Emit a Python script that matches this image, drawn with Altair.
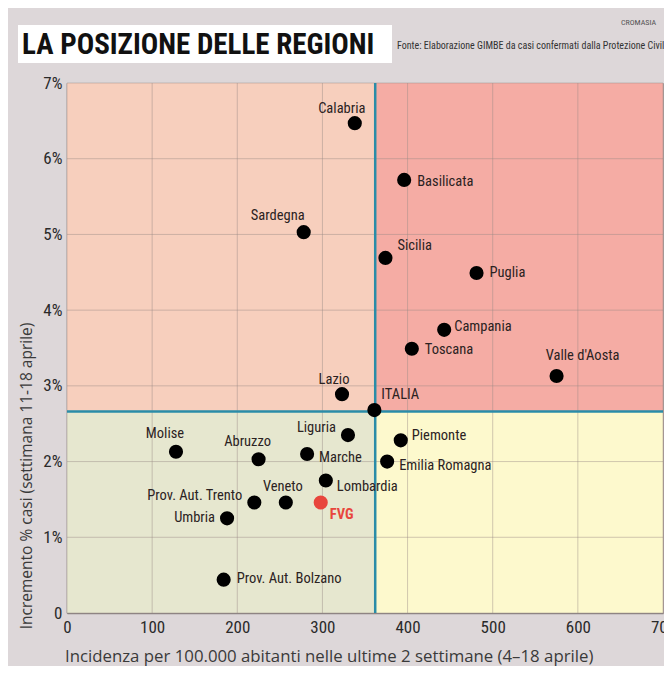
import altair as alt
import pandas as pd

# ---------------- data ----------------
regions = ["Calabria", "Basilicata", "Sardegna", "Sicilia", "Puglia", "Campania",
           "Toscana", "Valle d'Aosta", "Lazio", "ITALIA", "Molise", "Abruzzo",
           "Liguria", "Marche", "Piemonte", "Emilia Romagna", "Lombardia", "Veneto",
           "Prov. Aut. Trento", "FVG", "Umbria", "Prov. Aut. Bolzano"]
incidenza = [338, 396, 278, 374, 481, 443, 405, 575, 323, 361, 128, 225,
             330, 282, 392, 376, 304, 257, 220, 298, 188, 184]
incremento = [6.47, 5.72, 5.03, 4.69, 4.49, 3.74, 3.49, 3.13, 2.89, 2.68, 2.13, 2.03,
              2.35, 2.10, 2.28, 2.00, 1.75, 1.46, 1.46, 1.46, 1.25, 0.44]
highlight = "FVG"

x_ticks = [0, 100, 200, 300, 400, 500, 600, 700]
y_ticks = [0, 1, 2, 3, 4, 5, 6, 7]
threshold_x = 362
threshold_y = 2.66

# label placement (align, dx px, dy px) kept apart from the values
label_place = {
    "Calabria": ("center", -13, -14), "Basilicata": ("left", 13, 2),
    "Sardegna": ("right", 1, -16), "Sicilia": ("left", 12, -12),
    "Puglia": ("left", 13, 0), "Campania": ("left", 10, -3),
    "Toscana": ("left", 13, 1), "Valle d'Aosta": ("center", 26, -20),
    "Lazio": ("center", -8, -14), "ITALIA": ("left", 7, -15),
    "Molise": ("center", -11, -18), "Abruzzo": ("center", -11, -17),
    "Liguria": ("right", -12, -7), "Marche": ("left", 12, 4),
    "Piemonte": ("left", 11, -4), "Emilia Romagna": ("left", 12, 4),
    "Lombardia": ("left", 11, 6), "Veneto": ("center", -3, -15),
    "Prov. Aut. Trento": ("right", -12, -6), "FVG": ("left", 9, 13),
    "Umbria": ("right", -12, 0), "Prov. Aut. Bolzano": ("left", 13, -1),
}

W, H = 596, 530
X_MAX, Y_MAX = 700, 7

df = pd.DataFrame({"regione": regions, "inc": incidenza, "pct": incremento})
df["align"] = [label_place[r][0] for r in regions]
df["dx"] = [label_place[r][1] for r in regions]
df["dy"] = [label_place[r][2] for r in regions]
df["hl"] = df["regione"] == highlight

quad = pd.DataFrame({
    "x0": [0, threshold_x, 0, threshold_x],
    "x1": [threshold_x, X_MAX, threshold_x, X_MAX],
    "y0": [threshold_y, threshold_y, 0, 0],
    "y1": [Y_MAX, Y_MAX, threshold_y, threshold_y],
    "q": ["TL", "TR", "BL", "BR"],
})
quad_colors = ["#f7cfbd", "#f5aca4", "#e6e7cf", "#fdf9cd"]

# ---------------- styles ----------------
COND = "Roboto Condensed, Roboto, sans-serif"
REG = "Open Sans, Roboto, sans-serif"
DARK = "#2b2222"
RED = "#e8453c"
TEAL = "#2a8ca8"

xs = alt.Scale(domain=[0, X_MAX], nice=False, zero=False)
ys = alt.Scale(domain=[0, Y_MAX], nice=False, zero=False)
xaxis = alt.Axis(values=x_ticks, grid=False, ticks=False, domain=True,
                 domainColor="#8b8382", domainWidth=1.5, labelFont=COND,
                 labelFontSize=17, labelColor="#2a2a2a", labelPadding=6,
                 labelFlush=False, title=None)
yaxis = alt.Axis(values=y_ticks, grid=False, ticks=False, domain=True,
                 domainColor="#8b8382", domainWidth=1.5, labelFont=COND,
                 labelFontSize=17, labelColor="#2a2a2a", labelPadding=5,
                 labelFlush=False, title=None,
                 labelExpr="datum.value == 0 ? '0' : datum.value + '%'")

quads = alt.Chart(quad).mark_rect().encode(
    x=alt.X("x0:Q", scale=xs, axis=xaxis), x2="x1:Q",
    y=alt.Y("y0:Q", scale=ys, axis=yaxis), y2="y1:Q",
    color=alt.Color("q:N", scale=alt.Scale(domain=["TL", "TR", "BL", "BR"],
                                           range=quad_colors), legend=None),
)

vgrid = alt.Chart(pd.DataFrame({"t": x_ticks})).mark_rule(
    color="#9a8a86", opacity=0.45, strokeWidth=1).encode(
    x=alt.X("t:Q", scale=xs, axis=xaxis))
hgrid = alt.Chart(pd.DataFrame({"t": y_ticks})).mark_rule(
    color="#9a8a86", opacity=0.45, strokeWidth=1).encode(
    y=alt.Y("t:Q", scale=ys, axis=yaxis))

vthr = alt.Chart(pd.DataFrame({"t": [threshold_x]})).mark_rule(
    color=TEAL, strokeWidth=2.5).encode(x=alt.X("t:Q", scale=xs, axis=xaxis))
hthr = alt.Chart(pd.DataFrame({"t": [threshold_y]})).mark_rule(
    color=TEAL, strokeWidth=2.5).encode(y=alt.Y("t:Q", scale=ys, axis=yaxis))

points = alt.Chart(df).mark_circle(size=200, opacity=1).encode(
    x=alt.X("inc:Q", scale=xs, axis=xaxis),
    y=alt.Y("pct:Q", scale=ys, axis=yaxis),
    color=alt.condition(alt.datum.hl, alt.value(RED), alt.value("#000000")),
)

# label anchor = point position shifted by a pixel offset, converted via scale ratio
lab_base = alt.Chart(df).transform_calculate(
    lx=f"datum.inc + datum.dx * {X_MAX} / {W}",
    ly=f"datum.pct - datum.dy * {Y_MAX} / {H}",
)

label_layers = []
for a in ["left", "right", "center"]:
    label_layers.append(
        lab_base.transform_filter(
            (alt.datum.align == a) & (alt.datum.regione != highlight)
        ).mark_text(align=a, baseline="middle", font=COND, fontSize=14.5,
                    color=DARK).encode(
            x=alt.X("lx:Q", scale=xs, axis=xaxis),
            y=alt.Y("ly:Q", scale=ys, axis=yaxis),
            text="regione:N",
        )
    )
hl_label = lab_base.transform_filter(alt.datum.regione == highlight).mark_text(
    align="left", baseline="middle", font=COND, fontSize=14.5, fontWeight="bold",
    color=RED).encode(
    x=alt.X("lx:Q", scale=xs, axis=xaxis),
    y=alt.Y("ly:Q", scale=ys, axis=yaxis),
    text="regione:N",
)

one = alt.Data(values=[{}])
title_box = alt.Chart(one).mark_rect(color="white").encode(
    x=alt.value(-49), x2=alt.value(325), y=alt.value(-58), y2=alt.value(-20))
title = alt.Chart(one).mark_text(
    text="LA POSIZIONE DELLE REGIONI", align="left", baseline="middle",
    font=COND, fontSize=29, fontWeight="bold", color="#111111").encode(
    x=alt.value(-45), y=alt.value(-38))
source = alt.Chart(one).mark_text(
    text="Fonte: Elaborazione GIMBE da casi confermati dalla Protezione Civile",
    align="left", baseline="middle", font=COND, fontSize=10,
    color="#333333").encode(x=alt.value(330), y=alt.value(-37))
credit = alt.Chart(one).mark_text(
    text="CROMASIA", align="left", baseline="middle", font=COND, fontSize=8,
    color="#555555").encode(x=alt.value(554), y=alt.value(-60))
ytitle = alt.Chart(one).mark_text(
    text="Incremento % casi (settimana 11-18 aprile)", align="center",
    baseline="middle", angle=270, font=REG, fontSize=15.5,
    color="#3a3a3a").encode(x=alt.value(-40), y=alt.value(393))
xtitle = alt.Chart(one).mark_text(
    text="Incidenza per 100.000 abitanti  nelle ultime 2 settimane (4–18 aprile)",
    align="left", baseline="middle", font=REG, fontSize=16.8,
    color="#3a3a3a").encode(x=alt.value(-2), y=alt.value(574))

chart = alt.layer(
    quads, vgrid, hgrid, vthr, hthr, points, *label_layers, hl_label,
    title_box, title, source, credit, ytitle, xtitle,
).properties(
    width=W, height=H,
    autosize=alt.AutoSizeParams(type="none"),
    padding={"left": 59, "top": 75, "right": 1, "bottom": 53},
).configure(background="#ddd7d9").configure_view(
    stroke="#a89a98", strokeWidth=1
)

chart.save("out.html", embed_options={"renderer": "svg", "actions": False})
